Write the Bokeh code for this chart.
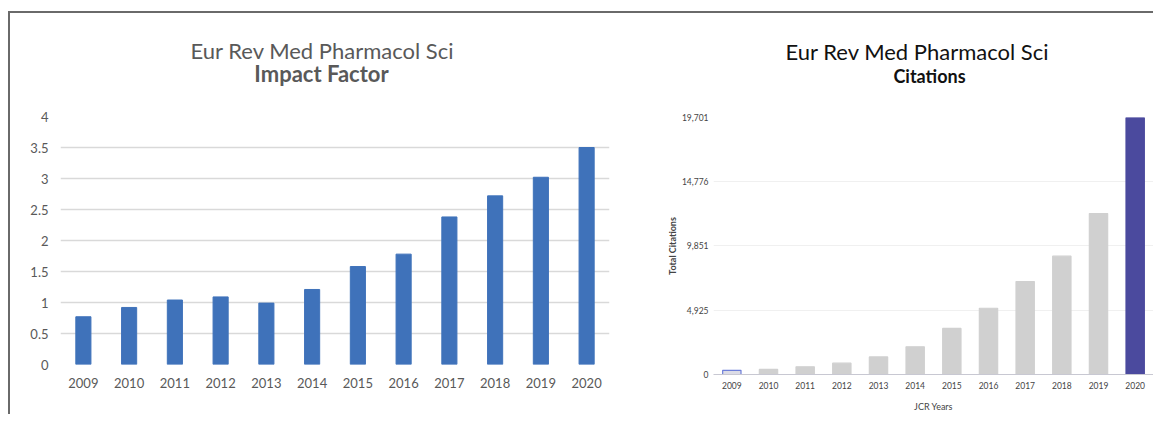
from bokeh.plotting import figure
from bokeh.layouts import row, column
from bokeh.models import (ColumnDataSource, FactorRange, Range1d, FixedTicker, Label)
from bokeh.embed import file_html
from bokeh.resources import INLINE

# ---------------- data ----------------
years = ["2009", "2010", "2011", "2012", "2013", "2014",
         "2015", "2016", "2017", "2018", "2019", "2020"]
impact_factor = [0.77, 0.92, 1.04, 1.09, 0.99, 1.21, 1.58, 1.78, 2.38, 2.72, 3.02, 3.50]
citations = [320, 390, 590, 870, 1350, 2120, 3530, 5080, 7130, 9070, 12340, 19701]

if_ticks = [0, 0.5, 1, 1.5, 2, 2.5, 3, 3.5, 4]
if_tick_labels = ["0", "0.5", "1", "1.5", "2", "2.5", "3", "3.5", "4"]
cit_ticks = [0, 4925, 9851, 14776, 19701]
cit_tick_labels = ["0", "4,925", "9,851", "14,776", "19,701"]

journal = "Eur Rev Med Pharmacol Sci"
left_subtitle = "Impact Factor"
right_subtitle = "Citations"
x_axis_title = "JCR Years"
y_axis_title = "Total Citations"

# ---------------- styles ----------------
FONT = "Lato"
if_color = "#3F72BA"
cit_fill = ["#DCDCE6"] + ["#D0D0D0"] * 10 + ["#4B4A9E"]
cit_line = ["#6E7FD9"] + ["#D0D0D0"] * 10 + ["#4B4A9E"]
HEAD_H = 95


def header(width, lines):
    h = figure(width=width, height=HEAD_H, x_range=Range1d(0, 1), y_range=Range1d(0, 1),
               output_backend="svg", toolbar_location=None,
               x_axis_location=None, y_axis_location=None,
               min_border_left=0, min_border_right=0, min_border_top=0, min_border_bottom=0)
    h.outline_line_color = None
    h.xgrid.grid_line_color = None
    h.ygrid.grid_line_color = None
    for text, x, y, size, style, color in lines:
        h.add_layout(Label(x=x, y=y, x_units="screen", y_units="screen", text=text,
                           text_align="center", text_baseline="alphabetic",
                           text_font=FONT, text_font_size=size, text_font_style=style,
                           text_color=color))
    return h


# ---------------- left: impact factor ----------------
h1 = header(638, [(journal, 262, 58, "22px", "normal", "#595959"),
                  (left_subtitle, 261, 35, "22px", "bold", "#595959")])

p1 = figure(width=638, height=296, x_range=FactorRange(*years), y_range=Range1d(0, 4),
            output_backend="svg", toolbar_location=None,
            min_border_left=50, min_border_right=39, min_border_top=8, min_border_bottom=40)
p1.outline_line_color = None
src1 = ColumnDataSource(dict(x=years, y=impact_factor))
p1.vbar(x="x", top="y", width=0.33, source=src1, fill_color=if_color, line_color=if_color)

p1.yaxis.ticker = FixedTicker(ticks=if_ticks)
p1.yaxis.major_label_overrides = dict(zip(if_ticks, if_tick_labels))
for ax in (p1.xaxis, p1.yaxis):
    ax.axis_line_color = None
    ax.major_tick_line_color = None
    ax.minor_tick_line_color = None
    ax.major_tick_out = 0
    ax.major_label_text_font = FONT
    ax.major_label_text_font_size = "13px"
    ax.major_label_text_color = "#595959"
p1.yaxis.major_label_standoff = 12
p1.xaxis.major_label_standoff = 13
p1.xgrid.grid_line_color = None
p1.ygrid.grid_line_color = "#D9D9D9"
p1.ygrid.grid_line_width = 1.5

# ---------------- right: citations ----------------
h2 = header(505, [(journal, 204, 57, "22px", "normal", "#111111"),
                  (right_subtitle, 216, 33, "18px", "bold", "#111111")])

p2 = figure(width=505, height=306, x_range=FactorRange(*years), y_range=Range1d(0, 19701),
            output_backend="svg", toolbar_location=None,
            min_border_left=65, min_border_right=0, min_border_top=9, min_border_bottom=40)
p2.outline_line_color = None
src2 = ColumnDataSource(dict(x=years, y=citations, fc=cit_fill, lc=cit_line))
p2.vbar(x="x", top="y", width=0.5, source=src2, fill_color="fc", line_color="lc", line_width=1.2)

p2.yaxis.ticker = FixedTicker(ticks=cit_ticks)
p2.yaxis.major_label_overrides = dict(zip(cit_ticks, cit_tick_labels))
for ax in (p2.xaxis, p2.yaxis):
    ax.major_tick_line_color = None
    ax.minor_tick_line_color = None
    ax.major_tick_out = 0
    ax.major_label_text_font = FONT
    ax.major_label_text_font_size = "8.5px"
    ax.major_label_text_color = "#444444"
    ax.axis_label_text_font = FONT
    ax.axis_label_text_font_size = "9px"
    ax.axis_label_text_color = "#444444"
    ax.axis_label_text_font_style = "bold"
p2.yaxis.axis_line_color = None
p2.xaxis.axis_line_color = "#C8C8D2"
p2.xaxis.axis_line_width = 1.2
p2.yaxis.major_label_standoff = 5
p2.xaxis.major_label_standoff = 7
p2.xaxis.axis_label = x_axis_title
p2.yaxis.axis_label = y_axis_title
p2.xaxis.axis_label_standoff = 9
p2.yaxis.axis_label_standoff = 1
p2.xaxis.axis_label_text_font_style = "normal"
p2.xgrid.grid_line_color = None
p2.ygrid.grid_line_color = "#F0F0F0"

inner = row(column(h1, p1), column(h2, p2))
inner.styles = {"border-top": "2px solid #6A6A6A", "border-left": "2px solid #6A6A6A"}
outer = column(inner)
outer.styles = {"padding-top": "11px", "padding-left": "8px"}

open("out.html", "w").write(file_html(outer, INLINE))
